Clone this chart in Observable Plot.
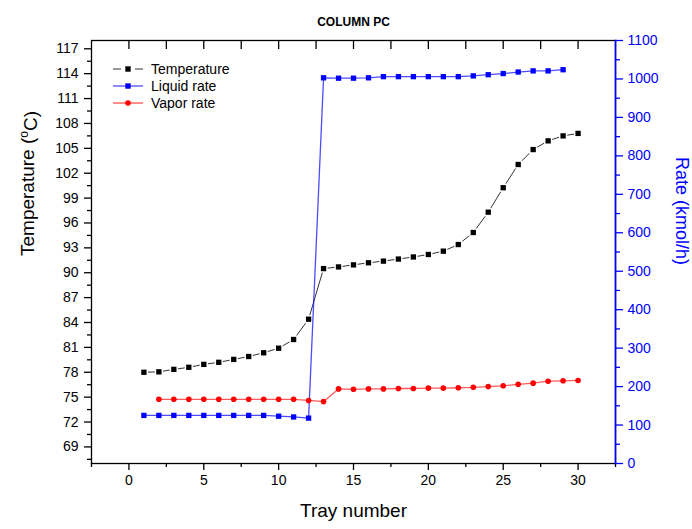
<!DOCTYPE html>
<html><head><meta charset="utf-8">
<script src="https://cdn.jsdelivr.net/npm/d3@7"></script>
<script src="https://cdn.jsdelivr.net/npm/@observablehq/plot@0.6"></script>
<style>
body{margin:0;background:#fff;}
#chart{position:relative;width:692px;height:529px;}
#legend{position:absolute;left:108px;top:58px;}
</style></head><body><div id="chart"><div id="legend"></div></div>
<script>
// ---- data ----
const tempTrays = [1,2,3,4,5,6,7,8,9,10,11,12,13,14,15,16,17,18,19,20,21,22,23,24,25,26,27,28,29,30];
const temperature = [78.0,78.05,78.35,78.6,78.95,79.2,79.55,79.9,80.35,80.9,81.95,84.4,90.5,90.7,90.95,91.2,91.4,91.65,91.9,92.2,92.6,93.4,94.85,97.3,100.25,103.05,104.85,105.9,106.5,106.8];

const liquidTrays = [1,2,3,4,5,6,7,8,9,10,11,12,13,14,15,16,17,18,19,20,21,22,23,24,25,26,27,28,29];
const liquidRate = [125,125,125,125,125,125,125,125,125,123,121,118,1003,1002,1002,1003,1006,1006,1006,1006,1006,1006,1008,1011,1014,1018,1021,1021,1024];

const vaporTrays = [2,3,4,5,6,7,8,9,10,11,12,13,14,15,16,17,18,19,20,21,22,23,24,25,26,27,28,29,30];
const vaporRate = [167,167,167,167,167,167,167,167,167,167,164,161,194,193,194,194,195,195,196,196,197,198,200,202,206,209,214,215,216];

const xMajorTicks = [0,5,10,15,20,25,30];
const xMinorTicks = [-2.5,2.5,7.5,12.5,17.5,22.5,27.5,32.5];
const tempMajorTicks = [69,72,75,78,81,84,87,90,93,96,99,102,105,108,111,114,117];
const tempMinorTicks = [67.5,70.5,73.5,76.5,79.5,82.5,85.5,88.5,91.5,94.5,97.5,100.5,103.5,106.5,109.5,112.5,115.5];
const rateMajorTicks = [0,100,200,300,400,500,600,700,800,900,1000,1100];
const rateMinorTicks = [50,150,250,350,450,550,650,750,850,950,1050];

const xDomain = [-2.5, 32.5];
const tempDomain = [67, 118];
const rateDomain = [0, 1100];

const seriesNames = ["Temperature", "Liquid rate", "Vapor rate"];
const seriesColors = ["#000000", "#0000ff", "#ff0000"];

// ---- dual axis mapping ----
const r2t = r => tempDomain[0] + (r - rateDomain[0]) / (rateDomain[1] - rateDomain[0]) * (tempDomain[1] - tempDomain[0]);
const t2r = t => rateDomain[0] + (t - tempDomain[0]) / (tempDomain[1] - tempDomain[0]) * (rateDomain[1] - rateDomain[0]);

const tempData = tempTrays.map((x, i) => ({x, y: temperature[i]}));
const liquidData = liquidTrays.map((x, i) => ({x, y: r2t(liquidRate[i])}));
const vaporData = vaporTrays.map((x, i) => ({x, y: r2t(vaporRate[i])}));

const FONT = "'Liberation Sans', Arial, Helvetica, sans-serif";
const BLUE = "#0000ff";
const blank = () => "";

const chart = Plot.plot({
  width: 692, height: 529,
  marginLeft: 91, marginRight: 77, marginTop: 40, marginBottom: 66,
  style: {fontFamily: FONT, fontSize: "14px", background: "white", color: "black"},
  x: {domain: xDomain},
  y: {domain: tempDomain},
  marks: [
    // bottom axis
    Plot.axisX({ticks: xMajorTicks, tickSize: 7, tickPadding: 5, strokeWidth: 1.3, label: null, fontSize: 14, tickFormat: d => String(d)}),
    Plot.axisX({ticks: xMinorTicks, tickSize: 4, strokeWidth: 1.3, label: null, tickFormat: blank}),
    // top inward ticks
    Plot.axisX({anchor: "top", ticks: xMajorTicks.concat(xMinorTicks.slice(1, -1)), tickSize: -8, strokeWidth: 1.3, label: null, tickFormat: blank}),
    // left axis
    Plot.axisY({ticks: tempMajorTicks, tickSize: 7, tickPadding: 6, strokeWidth: 1.3, label: null, fontSize: 14, tickFormat: d => String(d)}),
    Plot.axisY({ticks: tempMinorTicks, tickSize: 4, strokeWidth: 1.3, label: null, tickFormat: blank}),
    // right axis (rate)
    Plot.axisY({anchor: "right", ticks: rateMajorTicks.map(r2t), tickSize: 7, tickPadding: 5, strokeWidth: 1.3, color: BLUE, label: null, fontSize: 14, tickFormat: t => String(Math.round(t2r(t)))}),
    Plot.axisY({anchor: "right", ticks: rateMinorTicks.map(r2t), tickSize: 4, strokeWidth: 1.3, color: BLUE, label: null, tickFormat: blank}),
    Plot.frame({stroke: "#000", strokeWidth: 1.3}),
    Plot.frame({anchor: "right", stroke: BLUE, strokeWidth: 1.6}),

    // Temperature
    Plot.line(tempData, {x: "x", y: "y", stroke: "#333", strokeWidth: 1}),
    Plot.dot(tempData, {x: "x", y: "y", symbol: "square", r: 4.6, fill: "white", stroke: "none"}),
    Plot.dot(tempData, {x: "x", y: "y", symbol: "square", r: 3.0, fill: "#000", stroke: "none"}),
    // Liquid rate
    Plot.line(liquidData, {x: "x", y: "y", stroke: BLUE, strokeOpacity: 0.7, strokeWidth: 1.3}),
    Plot.dot(liquidData, {x: "x", y: "y", symbol: "square", r: 3.0, fill: BLUE, stroke: "none"}),
    // Vapor rate
    Plot.line(vaporData, {x: "x", y: "y", stroke: "#ff0000", strokeOpacity: 0.65, strokeWidth: 1.3}),
    Plot.dot(vaporData, {x: "x", y: "y", r: 2.8, fill: "#ff0000", stroke: "none"}),

    // texts
    Plot.text(["COLUMN PC"], {frameAnchor: "top", dy: -23, fontSize: 12, fontWeight: "bold", fill: "#000"}),
    Plot.text(["Tray number"], {frameAnchor: "bottom", dy: 53, fontSize: 19, fill: "#000"}),
    Plot.text(["Temperature (oC)"], {frameAnchor: "left", dx: -64, dy: 4, rotate: -90, fontSize: 19, fill: "#000"}),
    Plot.text(["Rate (kmol/h)"], {frameAnchor: "right", dx: 66, dy: 13, rotate: 90, fontSize: 18, fill: BLUE})
  ]
});

document.getElementById("chart").prepend(chart);

// superscript degree "o"
d3.select(chart).selectAll("text").filter(function() { return this.textContent === "Temperature (oC)"; })
  .each(function() {
    const t = d3.select(this);
    t.text(null);
    t.append("tspan").text("Temperature (");
    t.append("tspan").attr("dy", "-0.45em").attr("font-size", "12px").text("o");
    t.append("tspan").attr("dy", "0.45em").text("C)");
  });

// legend
const leg = d3.select("#legend").append("svg").attr("width", 160).attr("height", 60)
  .style("font-family", FONT).style("font-size", "14px").style("overflow", "visible");
seriesNames.forEach((name, i) => {
  const g = leg.append("g").attr("transform", `translate(0,${11 + i * 17})`);
  const c = seriesColors[i];
  if (i === 0) {
    g.append("line").attr("x1", 5).attr("x2", 13).attr("stroke", "#333").attr("stroke-width", 1);
    g.append("line").attr("x1", 27).attr("x2", 35).attr("stroke", "#333").attr("stroke-width", 1);
    g.append("rect").attr("x", 17.3).attr("y", -2.7).attr("width", 5.4).attr("height", 5.4).attr("fill", c);
  } else {
    g.append("line").attr("x1", 5).attr("x2", 35).attr("stroke", c).attr("stroke-opacity", 0.7).attr("stroke-width", 1.3);
    if (i === 1) g.append("rect").attr("x", 17.3).attr("y", -2.7).attr("width", 5.4).attr("height", 5.4).attr("fill", c);
    else g.append("circle").attr("cx", 20).attr("cy", 0).attr("r", 2.8).attr("fill", c);
  }
  g.append("text").attr("x", 43).attr("y", 0).attr("dy", "0.35em").attr("fill", "#000").text(name);
});
</script>
</body></html>
